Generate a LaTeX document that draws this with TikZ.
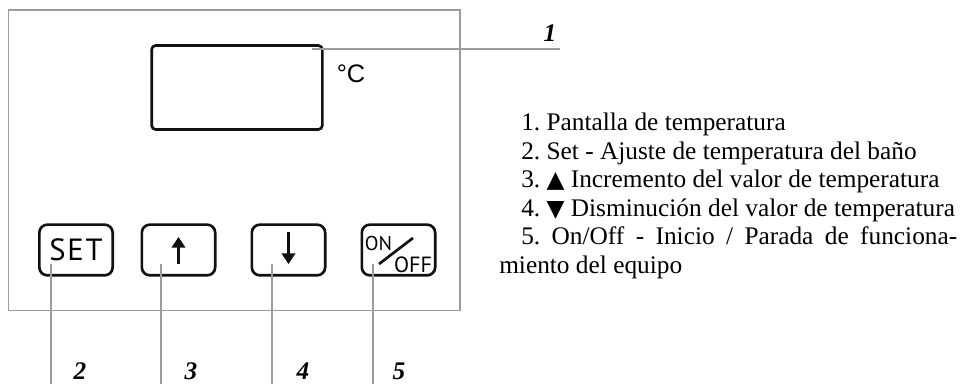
\documentclass[tikz,border=0pt]{standalone}
\usepackage{fontspec}
\setmainfont{Liberation Serif}
\newfontfamily\keyfont{PT Sans}
\newfontfamily\unitfont{Liberation Sans}
\newfontfamily\symfont{DejaVu Sans}
\usetikzlibrary{arrows.meta,positioning}
\definecolor{panelGray}{HTML}{9C9C9C}
\definecolor{keyBlack}{HTML}{111111}
\newcommand{\tri}[1]{{\symfont\fontsize{17.5}{17.5}\selectfont #1}}

\begin{document}
\begin{tikzpicture}[x=0.75pt,y=-0.75pt,>=Latex,
  panel/.style={draw=panelGray,line width=.9pt},
  leader/.style={draw=panelGray,line width=.8pt},
  keybox/.style={draw=keyBlack,line width=2pt,rounded corners=6pt,minimum width=55pt,minimum height=38pt,inner sep=0pt},
  keyarrow/.style={draw=keyBlack,line width=2.1pt,-{Triangle[width=10pt,length=8pt]}},
  callout/.style={font=\fontsize{19}{19}\selectfont\bfseries\itshape,anchor=base,inner sep=0pt},
  legend/.style={font=\fontsize{19}{19}\selectfont\frenchspacing,anchor=base west,inner sep=0pt}]
\useasboundingbox (0,0) rectangle (961,384);
% panel and display
\draw[panel] (8.5,10) rectangle (460,310.5);
\node[draw=keyBlack,line width=2pt,rounded corners=3pt,minimum width=128pt,minimum height=63pt] (display) at (237,87.5) {};
\node[font=\unitfont\fontsize{19}{19}\selectfont] (unit) at (351,74) {°C};
% keys
\node[keybox,font=\keyfont\fontsize{23}{23}\selectfont\addfontfeatures{LetterSpace=6}] (set) at (76,250) {SET};
\foreach \name/\x in {up/178.5,down/288.5,onoff/398.5}{
  \node[keybox] (\name) at (\x,250) {};
}
\draw[keyarrow] (up.center) ++(0,14) -- ++(0,-27);
\draw[keyarrow] (down.center) ++(0,-18) -- ++(0,32);
\node[font=\keyfont\fontsize{15}{15}\selectfont,inner sep=0pt] (on) at (378.5,243.5) {ON};
\node[font=\keyfont\fontsize{16.5}{16.5}\selectfont,inner sep=0pt] (off) at (413,264.5) {OFF};
\draw[draw=keyBlack,line width=2pt] (onoff.center) ++(-19.5,14) -- ++(34,-26);
% callouts
\coordinate (c1) at (312,49);
\coordinate (c1e) at (560,49);
\draw[leader] (c1) -- (c1e);
\node[callout] (n1) at (550,42) {1};
\foreach \n/\x/\lx in {2/51/80,3/161/191,4/272/303,5/373/399}{
  \coordinate (c\n) at (\x,264);
  \coordinate (c\n e) at (\x,384);
  \draw[leader] (c\n) -- (c\n e);
  \node[callout] (n\n) at (\lx,380) {\n};
}
% legend
\node[legend] (l1) at (521,131) {1. Pantalla de temperatura};
\node[legend] (l2) at (521,159.5) {2. Set - Ajuste de temperatura del baño};
\node[legend] (l3) at (521,188) {3. \tri{▲} Incremento del valor de temperatura};
\node[legend] (l4) at (521,216.5) {4. \tri{▼} Disminución del valor de temperatura};
\node[legend] (l5) at (521,245) {\makebox[327pt][s]{5. On/Off - Inicio / Parada de funciona-}};
\node[legend] (l6) at (499,273.5) {miento del equipo};
\end{tikzpicture}
\end{document}
